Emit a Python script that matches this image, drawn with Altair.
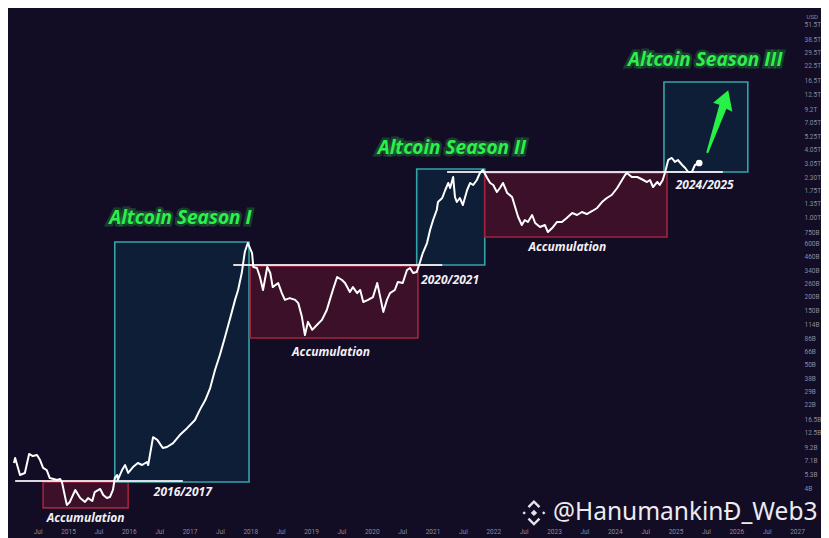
import altair as alt
import pandas as pd

# ---- altcoin market cap (decimal year, value in billions USD) ----
years = [2014.11, 2014.13, 2014.21, 2014.29, 2014.36, 2014.42, 2014.49, 2014.54, 2014.59, 2014.65,
         2014.70, 2014.82, 2014.87, 2014.90, 2014.98, 2015.03, 2015.12, 2015.20, 2015.28, 2015.33,
         2015.40, 2015.44, 2015.53, 2015.58, 2015.64, 2015.69, 2015.74, 2015.77, 2015.81, 2015.82,
         2015.89, 2015.94, 2015.99, 2016.07, 2016.15, 2016.22, 2016.30, 2016.32, 2016.40, 2016.47,
         2016.56, 2016.63, 2016.73, 2016.84, 2016.96,
         2017.09, 2017.17, 2017.26, 2017.34, 2017.42, 2017.50, 2017.58, 2017.67, 2017.75, 2017.80,
         2017.86, 2017.91, 2017.96, 2018.03, 2018.05, 2018.11, 2018.16, 2018.21, 2018.28, 2018.33,
         2018.37, 2018.46, 2018.52, 2018.57, 2018.65, 2018.74, 2018.79, 2018.85, 2018.90, 2018.95,
         2019.02, 2019.10, 2019.18, 2019.26, 2019.31, 2019.36, 2019.43, 2019.51, 2019.56, 2019.64,
         2019.69, 2019.76, 2019.81, 2019.86, 2019.94, 2020.02, 2020.09, 2020.14, 2020.19, 2020.25,
         2020.30, 2020.38, 2020.43, 2020.51, 2020.58, 2020.63, 2020.68, 2020.74, 2020.79, 2020.84,
         2020.91, 2020.96, 2021.01, 2021.07, 2021.09, 2021.16, 2021.21, 2021.26, 2021.29, 2021.34,
         2021.37, 2021.40, 2021.45, 2021.50, 2021.57, 2021.62, 2021.67, 2021.73, 2021.78, 2021.83,
         2021.90, 2021.95, 2022.00, 2022.06, 2022.11, 2022.16, 2022.23, 2022.31, 2022.36, 2022.41,
         2022.47, 2022.52, 2022.57, 2022.64, 2022.69, 2022.77, 2022.85, 2022.90, 2022.97, 2023.05,
         2023.13, 2023.21, 2023.30, 2023.38, 2023.46, 2023.54, 2023.63, 2023.71, 2023.79, 2023.87,
         2023.95, 2024.04, 2024.12, 2024.17, 2024.20, 2024.28, 2024.37, 2024.47, 2024.53, 2024.58,
         2024.63, 2024.70, 2024.74, 2024.79, 2024.83, 2024.88, 2024.94, 2024.99, 2025.04, 2025.11,
         2025.16, 2025.21, 2025.27, 2025.32, 2025.39]
values_b = [6.73, 7.45, 5.27, 5.49, 8.09, 7.76, 7.92, 7.15, 6.08, 5.83,
            4.95, 4.76, 4.86, 4.57, 2.86, 3.04, 3.88, 3.29, 3.04, 3.29,
            3.10, 3.72, 3.96, 3.50, 3.29, 3.36, 3.88, 4.95, 5.27, 4.76,
            5.83, 6.46, 5.49, 6.20, 6.73, 6.46, 6.87, 6.46, 11.4, 10.8,
            9.14, 9.33, 10.1, 11.9, 13.7,
            16.2, 19.9, 24.3, 31.1, 44.9, 61.0, 86.3, 130, 188, 230,
            325, 499, 600, 489, 368, 360, 300, 230, 368, 325,
            244, 265, 216, 188, 195, 188, 176, 133, 91.8, 120,
            102, 113, 125, 153, 188, 230, 300, 282, 265, 221,
            244, 216, 230, 180, 188, 199, 265, 199, 147, 188,
            216, 230, 271, 265, 346, 360, 325, 332, 399, 489,
            600, 783, 960, 1177, 1386, 1504, 1771, 2044, 1845, 2310,
            1535, 1386, 1504, 1304, 1771, 2044, 1962, 2172, 2506, 2665,
            2262, 2044, 1962, 1700, 1845, 2044, 1666, 1535, 1252, 1021,
            867, 960, 922, 1063, 903, 832, 867, 751, 815, 922,
            922, 1000, 1107, 1063, 1130, 1085, 1154, 1227, 1386, 1504,
            1599, 1845, 2172, 2406, 2506, 2310, 2310, 2172, 2085, 2172,
            1883, 2085, 1962, 2172, 2557, 3268, 3404, 3141, 3268, 2951,
            2776, 2557, 2557, 2951, 3073]

# ---- boxes (accumulation = red, season = teal) ----
box_x1 = [2014.59, 2015.77, 2018.00, 2020.74, 2021.86, 2024.81]
box_x2 = [2015.99, 2017.98, 2020.76, 2021.86, 2024.86, 2026.19]
box_v1 = [2.69, 4.57, 86.3, 383, 679, 2557]
box_v2 = [4.57, 613, 375, 2719, 2506, 16060]
box_kind = ["acc", "season", "acc", "season", "acc", "season"]

# ---- horizontal resistance lines ----
hl_x1 = [2014.13, 2017.72, 2021.24]
hl_x2 = [2016.89, 2021.16, 2025.78]
hl_v = [4.66, 383, 2557]

# ---- annotations ----
season_text = ["Altcoin Season I", "Altcoin Season II", "Altcoin Season III"]
season_x = [2016.85, 2021.32, 2025.49]
season_v = [1000, 4175, 25160]

acc_text = ["Accumulation", "Accumulation", "Accumulation"]
acc_x = [2015.29, 2019.33, 2023.22]
acc_v = [2.19, 64.9, 553]

period_text = ["2016/2017", "2020/2021", "2024/2025"]
period_x = [2016.89, 2021.29, 2025.48]
period_v = [3.72, 282, 1962]

arrow_x = [2025.69]
arrow_v = [7171]

watermark_text = ["@HanumankinĐ_Web3"]
watermark_x = [2025.16]
watermark_v = [2.43]
logo_x = [2022.67]
logo_v = [2.43]

usd_x = [2027.25]
usd_v = [60000]

# ---- axes ----
y_tick_vals = [51500, 38500, 29500, 22500, 16500, 12500, 9200, 7050, 5250, 4050, 3050, 2300,
               1750, 1350, 1000, 750, 600, 460, 340, 260, 200, 150, 114, 86, 66, 50, 38, 29,
               22, 16.5, 12.5, 9.2, 7.1, 5.3, 4]
y_tick_labels = ["51.5T", "38.5T", "29.5T", "22.5T", "16.5T", "12.5T", "9.2T", "7.05T", "5.25T",
                 "4.05T", "3.05T", "2.30T", "1.75T", "1.35T", "1.00T", "750B", "600B", "460B",
                 "340B", "260B", "200B", "150B", "114B", "86B", "66B", "50B", "38B", "29B", "22B",
                 "16.5B", "12.5B", "9.2B", "7.1B", "5.3B", "4B"]
x_tick_vals = [2014.5, 2015, 2015.5, 2016, 2016.5, 2017, 2017.5, 2018, 2018.5, 2019, 2019.5,
               2020, 2020.5, 2021, 2021.5, 2022, 2022.5, 2023, 2023.5, 2024, 2024.5, 2025,
               2025.5, 2026, 2026.5, 2027]

BG = "#130c25"
GREEN = "#2cf04c"
AXIS_COL = "#8d8a9c"

y_expr = "''"
for v, l in reversed(list(zip(y_tick_vals, y_tick_labels))):
    y_expr = f"abs(datum.value - {v}) < {v * 1e-6} ? '{l}' : ({y_expr})"

x_scale = alt.Scale(domain=[2014.0123, 2027.0494], nice=False, zero=False)
y_scale = alt.Scale(type="log", domain=[2.018, 72730], nice=False)

X = alt.X("x:Q", scale=x_scale, title=None,
          axis=alt.Axis(values=x_tick_vals, labelExpr="datum.value % 1 == 0 ? toString(datum.value) : 'Jul'",
                        domain=False, ticks=False, grid=False, labelColor=AXIS_COL, labelFontSize=6.5,
                        labelPadding=6, labelFont="Roboto", labelOverlap=False, labelFlush=False))
Y = alt.Y("v:Q", scale=y_scale, title=None,
          axis=alt.Axis(orient="right", values=y_tick_vals, labelExpr=y_expr, domain=False, ticks=False,
                        grid=False, labelColor=AXIS_COL, labelFontSize=6.5, labelPadding=4,
                        labelFont="Roboto", labelOverlap=False, labelAlign="left"))

line_df = pd.DataFrame({"x": years, "v": values_b})
box_df = pd.DataFrame({"x": box_x1, "x2": box_x2, "v": box_v1, "v2": box_v2, "kind": box_kind})
hl_df = pd.DataFrame({"x": hl_x1, "x2": hl_x2, "v": hl_v})
season_df = pd.DataFrame({"x": season_x, "v": season_v, "t": season_text})
acc_df = pd.DataFrame({"x": acc_x, "v": acc_v, "t": acc_text})
period_df = pd.DataFrame({"x": period_x, "v": period_v, "t": period_text})
arrow_df = pd.DataFrame({"x": arrow_x, "v": arrow_v})
wm_df = pd.DataFrame({"x": watermark_x, "v": watermark_v, "t": watermark_text})
logo_df = pd.DataFrame({"x": logo_x, "v": logo_v})
usd_df = pd.DataFrame({"x": usd_x, "v": usd_v, "t": ["USD"]})
end_df = line_df.tail(1)

boxes = alt.Chart(box_df).mark_rect(strokeWidth=1.6).encode(
    x=X, x2="x2:Q", y=Y, y2="v2:Q",
    fill=alt.Fill("kind:N", scale=alt.Scale(domain=["acc", "season"], range=["#3b1028", "#0d1e36"]), legend=None),
    stroke=alt.Stroke("kind:N", scale=alt.Scale(domain=["acc", "season"], range=["#a3233c", "#35a4a8"]), legend=None),
)

hlines = alt.Chart(hl_df).mark_rule(color="#f4eef2", strokeWidth=2, opacity=0.9).encode(x=X, x2="x2:Q", y=Y)

line = alt.Chart(line_df).mark_line(color="#ffffff", strokeWidth=2, strokeJoin="round").encode(x=X, y=Y)
end_dot = alt.Chart(end_df).mark_circle(color="#ffffff", size=45, opacity=1).encode(x=X, y=Y)

season_glow = alt.Chart(season_df).mark_text(
    font="Open Sans", fontSize=19, fontWeight="bold", fontStyle="italic", fill=GREEN, fillOpacity=0.0,
    stroke=GREEN, strokeWidth=5, strokeOpacity=0.22).encode(x=X, y=Y, text="t:N")
season_lbl = alt.Chart(season_df).mark_text(
    font="Open Sans", fontSize=19, fontWeight="bold", fontStyle="italic", color=GREEN).encode(x=X, y=Y, text="t:N")

acc_lbl = alt.Chart(acc_df).mark_text(
    font="Open Sans", fontSize=12, fontWeight="bold", fontStyle="italic", color="#f2f0f4").encode(x=X, y=Y, text="t:N")
period_lbl = alt.Chart(period_df).mark_text(
    font="Open Sans", fontSize=12, fontWeight="bold", fontStyle="italic", color="#f2f0f4").encode(x=X, y=Y, text="t:N")

arrow_path = "M -0.03 1 L 0.03 1 L 0.14 -0.45 L 0.34 -0.42 L 0.02 -1 L -0.3 -0.5 L -0.1 -0.5 Z"
arrow = alt.Chart(arrow_df).mark_point(
    shape=arrow_path, size=4356, angle=18, filled=True, color="#27f046", opacity=1, strokeWidth=0).encode(x=X, y=Y)

logo_path = ("M 0 -0.24 L 0.24 0 L 0 0.24 L -0.24 0 Z "
             "M -0.74 -0.13 L -0.61 0 L -0.74 0.13 L -0.87 0 Z "
             "M 0.74 -0.13 L 0.87 0 L 0.74 0.13 L 0.61 0 Z "
             "M 0 -0.98 L 0.48 -0.5 L 0.35 -0.37 L 0 -0.72 L -0.35 -0.37 L -0.48 -0.5 Z "
             "M 0 0.98 L 0.48 0.5 L 0.35 0.37 L 0 0.72 L -0.35 0.37 L -0.48 0.5 Z")
logo = alt.Chart(logo_df).mark_point(
    shape=logo_path, size=700, filled=True, color="#e6e4ea", opacity=1, strokeWidth=0).encode(x=X, y=Y)
wm = alt.Chart(wm_df).mark_text(font="Noto Sans", fontSize=24.5, color="#ecebf0").encode(x=X, y=Y, text="t:N")
usd = alt.Chart(usd_df).mark_text(font="Roboto", fontSize=6, color=AXIS_COL).encode(x=X, y=Y, text="t:N")

chart = alt.layer(
    boxes, hlines, line, end_dot, season_glow, season_lbl, acc_lbl, period_lbl, arrow, logo, wm, usd
).properties(
    width=792, height=514,
    autosize=alt.AutoSizeParams(type="none"),
    padding={"left": 0, "top": 0, "right": 21, "bottom": 16},
    background=BG,
).configure_view(stroke=None)

chart.save("out.html", embed_options={"renderer": "svg", "actions": False})
